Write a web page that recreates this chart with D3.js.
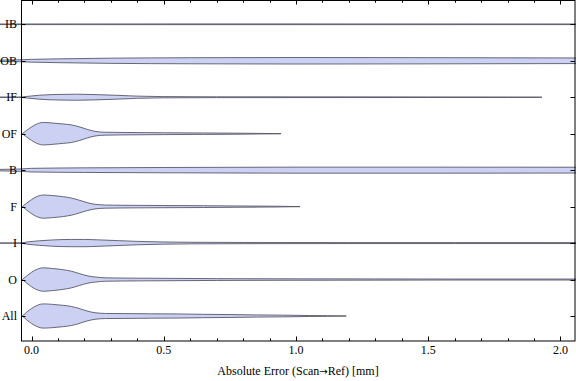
<!DOCTYPE html>
<html><head><meta charset="utf-8">
<script src="https://cdn.jsdelivr.net/npm/d3@7"></script>
<style>body{margin:0;background:#fff}svg{display:block}text{font-family:"Liberation Serif","Times New Roman",serif;font-size:12px;fill:#000}</style>
</head><body><svg id="c" width="576" height="381"></svg>
<script>
// Categories, top to bottom
const categories = ["IB","OB","IF","OF","B","F","I","O","All"];
// Violin density profiles: [absolute error (mm), relative density]
const densIB = [[-0.13,0.025],[0.5,0.03],[1.0,0.03],[2.1,0.025]];
const densOB = [[-0.13,0.05],[-0.04,0.083],[0.0,0.116],[0.1,0.157],[0.3,0.215],[0.6,0.25],[1.0,0.27],[1.5,0.256],[2.1,0.23]];
const densIF = [[-0.13,0.012],[-0.05,0.012],[-0.035,0.025],[-0.01,0.083],[0.03,0.165],[0.1,0.23],[0.17,0.25],[0.24,0.22],[0.32,0.16],[0.4,0.09],[0.5,0.05],[0.7,0.033],[1.0,0.03],[1.5,0.025],[1.8,0.017],[1.93,0]];
const densOF = [[-0.035,0],[-0.02,0.25],[0.0,0.56],[0.02,0.8],[0.045,0.93],[0.08,0.88],[0.12,0.8],[0.15,0.73],[0.18,0.57],[0.21,0.36],[0.24,0.19],[0.28,0.12],[0.35,0.1],[0.5,0.075],[0.65,0.058],[0.8,0.04],[0.943,0]];
const densB = [[-0.13,0.06],[-0.04,0.1],[0.0,0.15],[0.2,0.19],[0.5,0.22],[1.0,0.25],[1.5,0.25],[2.1,0.24]];
const densF = [[-0.035,0],[-0.02,0.26],[0.0,0.58],[0.02,0.83],[0.045,0.96],[0.08,0.91],[0.12,0.82],[0.15,0.71],[0.18,0.53],[0.21,0.33],[0.24,0.19],[0.28,0.13],[0.35,0.11],[0.5,0.09],[0.65,0.075],[0.8,0.05],[0.92,0.033],[1.015,0]];
const densI = [[-0.13,0.012],[-0.06,0.012],[-0.035,0.03],[-0.01,0.11],[0.03,0.19],[0.08,0.26],[0.15,0.3],[0.2,0.3],[0.26,0.26],[0.33,0.2],[0.4,0.14],[0.5,0.09],[0.6,0.066],[0.8,0.05],[1.2,0.04],[1.6,0.04],[2.1,0.037]];
const densO = [[-0.035,0],[-0.02,0.27],[0.0,0.6],[0.02,0.84],[0.045,0.97],[0.08,0.91],[0.12,0.81],[0.15,0.69],[0.18,0.5],[0.21,0.31],[0.24,0.21],[0.28,0.14],[0.35,0.12],[0.5,0.1],[0.7,0.075],[1.0,0.058],[1.3,0.05],[1.6,0.04],[2.1,0.04]];
const densAll = [[-0.035,0],[-0.02,0.29],[0.0,0.62],[0.02,0.87],[0.045,1.0],[0.08,0.96],[0.12,0.88],[0.15,0.79],[0.18,0.62],[0.21,0.41],[0.24,0.27],[0.28,0.21],[0.35,0.2],[0.45,0.18],[0.55,0.17],[0.65,0.14],[0.75,0.12],[0.85,0.09],[0.95,0.07],[1.05,0.04],[1.12,0.025],[1.19,0]];
const densities = [densIB,densOB,densIF,densOF,densB,densF,densI,densO,densAll];
const majorTicks = [0.0,0.5,1.0,1.5,2.0];
const tickLabels = ["0.0","0.5","1.0","1.5","2.0"];
const minorTicks = [0.1,0.2,0.3,0.4,0.6,0.7,0.8,0.9,1.1,1.2,1.3,1.4,1.6,1.7,1.8,1.9];
const xTitleParts = ["Absolute Error (Scan", "\u2192", "Ref) [mm]"];

const svg = d3.select("#c");
const L = 21, R = 575, T = 0, B = 341;
const x = d3.scaleLinear().domain([-0.04, 2.055]).range([L, R]);
const y = d3.scalePoint().domain(categories).range([24.3, 316]);
const w = d3.scaleLinear().domain([0, 1]).range([0, 12.1]);

// violins
categories.forEach((c, i) => {
  const cy = y(c);
  const area = d3.area()
    .x(d => x(d[0]))
    .y0(d => cy - w(d[1]))
    .y1(d => cy + w(d[1]))
    .curve(d3.curveMonotoneX);
  svg.append("path").datum(densities[i]).attr("d", area)
    .attr("fill", "#ccd1f4")
    .attr("stroke", "#505060").attr("stroke-width", 0.9).attr("stroke-opacity", 0.95);
});

// frame
const g = svg.append("g").attr("stroke", "#000").attr("stroke-width", 1).attr("fill", "none");
g.append("rect").attr("x", L + 0.5).attr("y", T + 0.5).attr("width", R - L - 0.5).attr("height", B - T - 0.5);
majorTicks.forEach(t => {
  const px = Math.round(x(t)) + 0.5;
  g.append("line").attr("x1", px).attr("x2", px).attr("y1", B).attr("y2", B - 4.5);
  g.append("line").attr("x1", px).attr("x2", px).attr("y1", T).attr("y2", T + 4.5);
});
minorTicks.forEach(t => {
  const px = Math.round(x(t)) + 0.5;
  g.append("line").attr("x1", px).attr("x2", px).attr("y1", B).attr("y2", B - 2.7);
  g.append("line").attr("x1", px).attr("x2", px).attr("y1", T).attr("y2", T + 2.7);
});
categories.forEach(c => {
  const py = Math.round(y(c)) + 0.5;
  g.append("line").attr("x1", L).attr("x2", L + 4.5).attr("y1", py).attr("y2", py);
  g.append("line").attr("x1", R).attr("x2", R - 4.5).attr("y1", py).attr("y2", py);
});

// labels
majorTicks.forEach((t, i) => {
  svg.append("text").attr("x", x(t)).attr("y", 354).attr("text-anchor", "middle").text(tickLabels[i]);
});
categories.forEach(c => {
  svg.append("text").attr("x", 17).attr("y", y(c) + 4).attr("text-anchor", "end").text(c);
});
const title = svg.append("text").attr("x", (L + R) / 2).attr("y", 375).attr("text-anchor", "middle");
title.append("tspan").text(xTitleParts[0]);
title.append("tspan").style("font-family", "'DejaVu Sans'").style("font-size", "10px").text(xTitleParts[1]);
title.append("tspan").text(xTitleParts[2]);
</script></body></html>
